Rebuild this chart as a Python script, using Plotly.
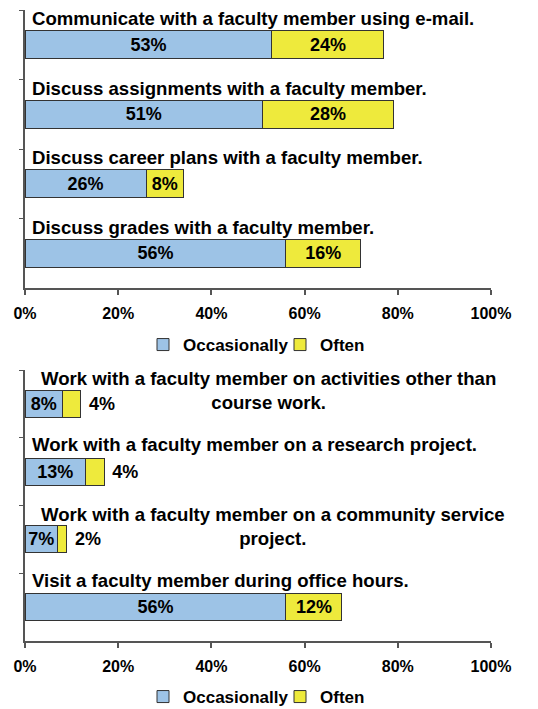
import plotly.graph_objects as go
from plotly.subplots import make_subplots

# ---- data ----
top_categories = [
    "Communicate with a faculty member using e-mail.",
    "Discuss assignments with a faculty member.",
    "Discuss career plans with a faculty member.",
    "Discuss grades with a faculty member.",
]
top_occasionally = [53, 51, 26, 56]
top_often = [24, 28, 8, 16]

bottom_categories = [
    "Work with a faculty member on activities other than<br>course work.",
    "Work with a faculty member on a research project.",
    "Work with a faculty member on a community service<br>project.",
    "Visit a faculty member during office hours.",
]
bottom_occasionally = [8, 13, 7, 56]
bottom_often = [4, 4, 2, 12]

x_tickvals = [0, 20, 40, 60, 80, 100]
x_ticktext = ["0%", "20%", "40%", "60%", "80%", "100%"]

series_names = ["Occasionally", "Often"]
BLUE = "#9DC3E6"
YELLOW = "#EEEA3C"
LINE = "#333333"
AXIS = "#555555"
FONT = "Liberation Sans, Arial, sans-serif"
CAT_SIZE = 18.6
VAL_SIZE = 18

fig = make_subplots(rows=2, cols=1)

def add_chart(row, cats, occ, often, legend, often_pos):
    fig.add_trace(go.Bar(
        y=cats, x=occ, orientation="h", name=series_names[0],
        marker=dict(color=BLUE, line=dict(color=LINE, width=1)),
        text=[f"{v}%" for v in occ], textposition="inside",
        insidetextanchor="middle", textangle=0,
        textfont=dict(size=VAL_SIZE, color="black", family=FONT, weight="bold"),
        legend=legend, showlegend=True, hoverinfo="x+y",
    ), row=row, col=1)
    often_text = [("\u00a0" + f"{v}%") if p == "outside" else f"{v}%"
                  for v, p in zip(often, often_pos)]
    fig.add_trace(go.Bar(
        y=cats, x=often, orientation="h", name=series_names[1],
        marker=dict(color=YELLOW, line=dict(color=LINE, width=1)),
        text=often_text, textposition=often_pos,
        insidetextanchor="middle", textangle=0,
        textfont=dict(size=VAL_SIZE, color="black", family=FONT, weight="bold"),
        outsidetextfont=dict(size=VAL_SIZE, color="black", family=FONT, weight="bold"),
        cliponaxis=False,
        legend=legend, showlegend=True, hoverinfo="x+y",
    ), row=row, col=1)

add_chart(1, top_categories, top_occasionally, top_often, "legend", ["inside"] * 4)
add_chart(2, bottom_categories, bottom_occasionally, bottom_often, "legend2",
          ["outside", "outside", "outside", "inside"])

# page body has an 8px margin; the figure is sized to fit inside the window
OFF = 8
W = 538.0 - OFF
H = 709.0 - OFF
def px_x(p):
    return (p - OFF) / W
def px_y(p):
    return 1 - (p - OFF) / H

xdom = [px_x(25), px_x(491)]
legend_common = dict(orientation="h", x=px_x(280), xanchor="center", yanchor="middle",
                     font=dict(size=17, family=FONT, weight="bold"),
                     traceorder="normal", itemwidth=30, entrywidth=92,
                     bgcolor="rgba(0,0,0,0)")
fig.update_layout(
    width=int(W), height=int(H),
    margin=dict(l=0, r=0, t=0, b=0, autoexpand=False),
    paper_bgcolor="white", plot_bgcolor="white",
    barmode="stack", bargap=0.6,
    font=dict(family=FONT, size=16, color="black", weight="bold"),
    uniformtext=dict(minsize=VAL_SIZE, mode="show"),
    xaxis=dict(domain=xdom, anchor="y"),
    xaxis2=dict(domain=xdom, anchor="y2"),
    yaxis=dict(domain=[px_y(288), px_y(10)], anchor="x"),
    yaxis2=dict(domain=[px_y(641), px_y(370)], anchor="x2"),
    legend=dict(y=px_y(345), **legend_common),
    legend2=dict(y=px_y(697), **legend_common),
    showlegend=True,
)

for r in (1, 2):
    fig.update_xaxes(range=[0, 100], tickvals=x_tickvals, ticktext=x_ticktext,
                     showgrid=False, zeroline=False, showline=True, automargin=False,
                     linecolor=AXIS, linewidth=1.5, ticks="outside", ticklen=5,
                     tickcolor=AXIS, tickwidth=1.5, ticklabelstandoff=5,
                     tickfont=dict(size=16, family=FONT, color="black", weight="bold"),
                     row=r, col=1)
    fig.update_yaxes(range=[3.5, -0.5], showticklabels=False, showgrid=False,
                     automargin=False,
                     zeroline=False, showline=True, linecolor=AXIS, linewidth=1.5,
                     ticks="outside", tickson="boundaries", ticklen=4,
                     tickcolor=AXIS, tickwidth=1, row=r, col=1)

# category labels above bars
def add_labels(cats, xref, yref, shifts, centers):
    for c, s, cx in zip(cats, shifts, centers):
        font = dict(size=CAT_SIZE, family=FONT, color="black", weight="bold")
        if cx is not None:
            fig.add_annotation(x=cx, y=c, xref=xref, yref=yref, text=c,
                               showarrow=False, xanchor="center", yanchor="middle",
                               align="center", yshift=s, font=font)
        else:
            fig.add_annotation(x=0, y=c, xref=xref, yref=yref, text=c,
                               showarrow=False, xanchor="left", yanchor="middle",
                               align="left", xshift=5, yshift=s, font=font)

add_labels(top_categories, "x", "y", [26, 26, 26, 26], [None] * 4)
add_labels(bottom_categories, "x2", "y2", [13, 27, 13, 27], [52.2, None, 53.3, None])

fig.write_html("out.html")
